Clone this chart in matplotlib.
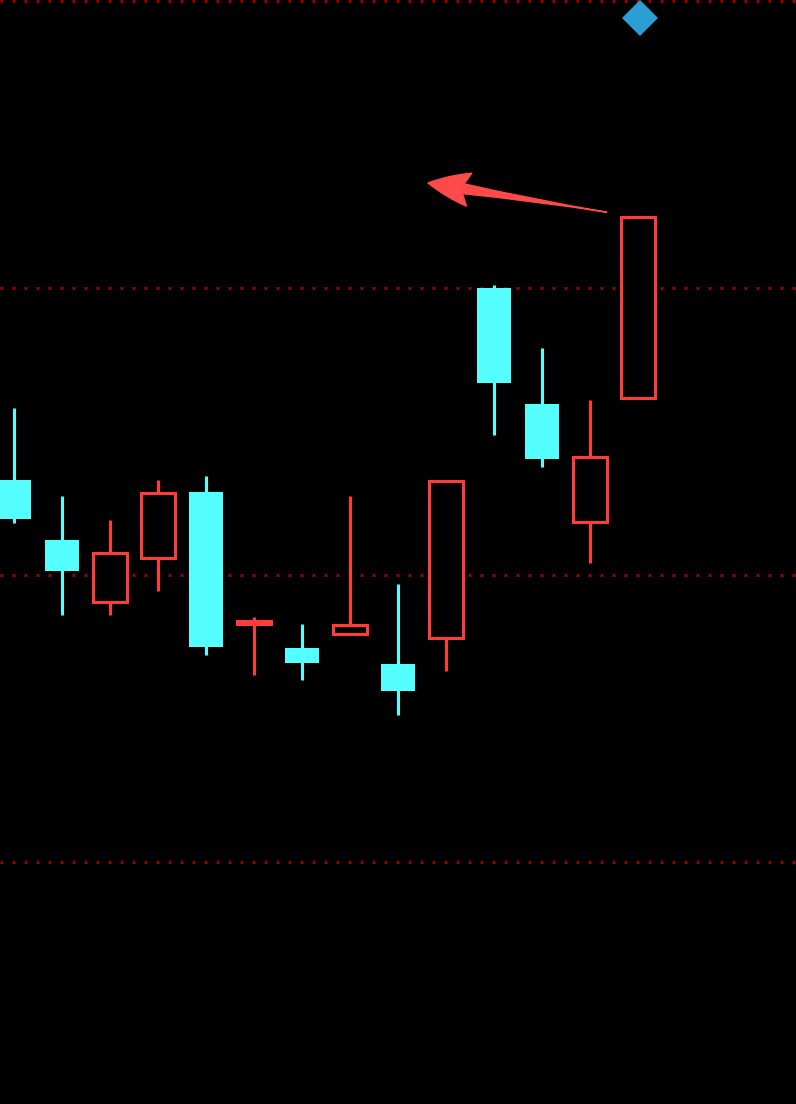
import matplotlib.pyplot as plt
from matplotlib.patches import Rectangle

# candle data (oldest -> newest)
opens  = [10.666, 10.561, 10.453, 10.530, 10.645, 10.414, 10.373, 10.397, 10.345, 10.390, 11.000, 10.798, 10.592, 10.808]
highs  = [10.791, 10.638, 10.596, 10.666, 10.672, 10.427, 10.415, 10.638, 10.484, 10.664, 11.005, 10.895, 10.805, 11.124]
lows   = [10.591, 10.430, 10.430, 10.472, 10.361, 10.326, 10.317, 10.397, 10.256, 10.333, 10.744, 10.688, 10.521, 10.808]
closes = [10.598, 10.507, 10.538, 10.643, 10.375, 10.419, 10.347, 10.413, 10.298, 10.664, 10.834, 10.702, 10.706, 11.124]

grid_levels = [10.0, 10.5, 11.0, 11.5]

# signal marker and arrow
diamond_x, diamond_y = 13.05, 11.470
arrow_tail = (12.35, 11.132)
arrow_head = (8.625, 11.183)

UP = "#ff3b3b"
DOWN = "#55ffff"
GRID = "#9a0000"
ARROW = "#ff4a4a"


def on_arrow(x):
    # point on the tail->head line at a given x
    t = (arrow_tail[0] - x) / (arrow_tail[0] - arrow_head[0])
    return (x, arrow_tail[1] + t * (arrow_head[1] - arrow_tail[1]))


fig = plt.figure(figsize=(7.96, 11.04), dpi=100, facecolor="black")
ax = fig.add_axes([0, 0, 1, 1])
ax.set_facecolor("black")

for lvl in grid_levels:
    ax.axhline(lvl, color=GRID, linewidth=2.16, linestyle=(0, (1, 3)),
               dash_capstyle="butt", zorder=1)

width = 0.69
lw = 2.2
for i, (o, h, l, c) in enumerate(zip(opens, highs, lows, closes)):
    top, bot = max(o, c), min(o, c)
    if c >= o:
        # hollow red candle, wicks stop at the body
        if h > top:
            ax.plot([i, i], [top, h], color=UP, linewidth=lw, solid_capstyle="butt", zorder=3)
        if l < bot:
            ax.plot([i, i], [l, bot], color=UP, linewidth=lw, solid_capstyle="butt", zorder=3)
        ax.add_patch(Rectangle((i - width / 2, bot), width, top - bot,
                               facecolor="black", edgecolor=UP, linewidth=lw, zorder=4))
    else:
        ax.plot([i, i], [l, h], color=DOWN, linewidth=lw, solid_capstyle="butt", zorder=3)
        ax.add_patch(Rectangle((i - 0.72 / 2, bot), 0.72, top - bot,
                               facecolor=DOWN, edgecolor="none", zorder=4))

ax.plot([diamond_x], [diamond_y], marker="D", markersize=18, color="#2b9fd4",
        markeredgewidth=0, zorder=5)

# tapered shaft: thin at the tail, wider towards the head
ax.annotate("", xy=arrow_tail, xytext=on_arrow(9.35),
            arrowprops=dict(arrowstyle="wedge,tail_width=0.36,shrink_factor=0.3",
                            color=ARROW, shrinkA=0, shrinkB=0, mutation_scale=20),
            zorder=6)
# swept-back head
ax.annotate("", xy=arrow_head, xytext=on_arrow(10.3),
            arrowprops=dict(arrowstyle="fancy,head_length=1.5,head_width=1.2,tail_width=0.05",
                            color=ARROW, shrinkA=0, shrinkB=0, mutation_scale=20),
            zorder=6)

ax.set_xlim(-14 / 48, 782 / 48)
ax.set_ylim(10 - 242 / 574, 10 + 862 / 574)
ax.axis("off")

fig.savefig("out.png", dpi=100, facecolor="black")
